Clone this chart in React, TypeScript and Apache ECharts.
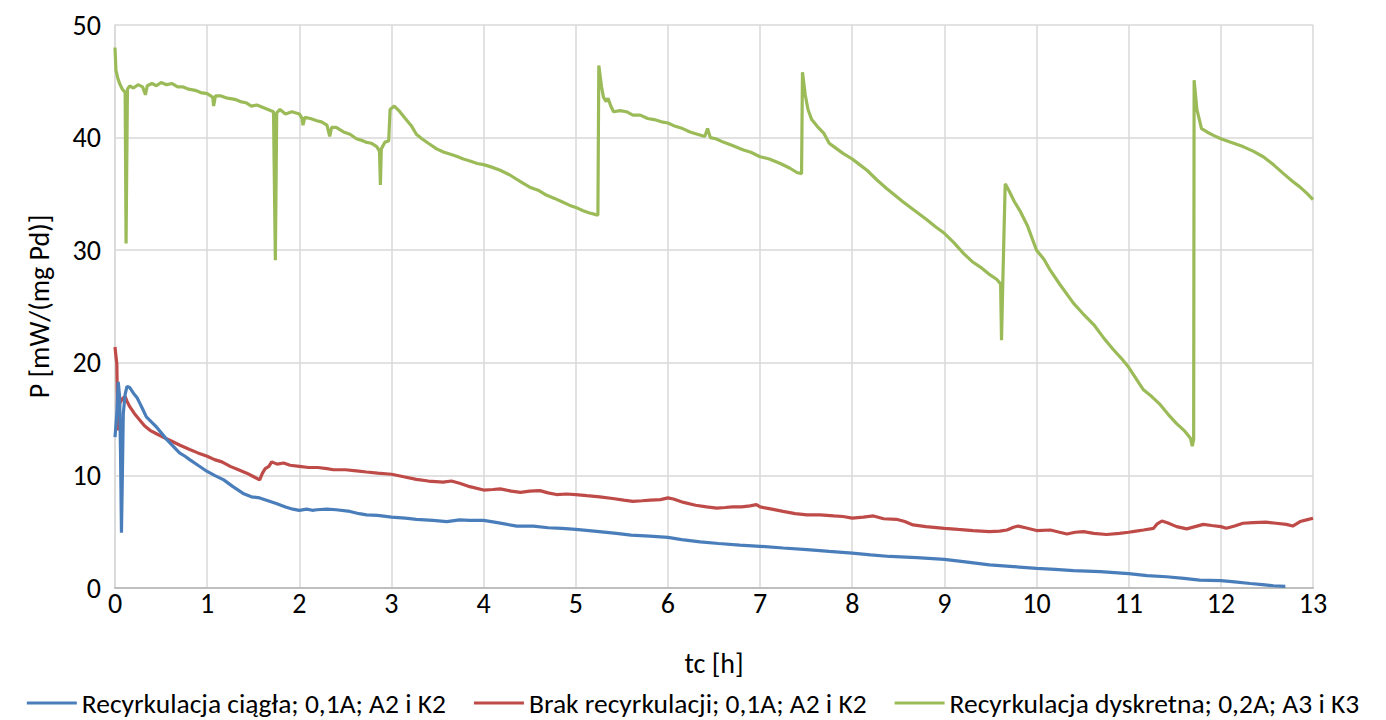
import React, { useEffect, useRef } from "react";
import * as echarts from "echarts";

// Hours (tc [h]) and power values P [mW/(mg Pd)]
const blueX = [0.00, 0.02, 0.035, 0.05, 0.06, 0.07, 0.08, 0.09, 0.11, 0.13, 0.16, 0.20, 0.24, 0.27, 0.30, 0.34, 0.40, 0.45, 0.50, 0.56, 0.63, 0.70, 0.76, 0.81, 0.90, 1.00, 1.08, 1.18, 1.28, 1.39, 1.48, 1.57, 1.66, 1.75, 1.85, 1.93, 2.00, 2.08, 2.14, 2.19, 2.30, 2.40, 2.55, 2.65, 2.73, 2.85, 3.00, 3.15, 3.27, 3.45, 3.60, 3.74, 3.85, 4.00, 4.15, 4.36, 4.54, 4.70, 4.85, 5.00, 5.20, 5.44, 5.60, 5.80, 6.00, 6.15, 6.35, 6.55, 6.78, 7.00, 7.25, 7.51, 7.75, 8.00, 8.20, 8.41, 8.70, 9.00, 9.25, 9.49, 9.75, 10.00, 10.20, 10.40, 10.69, 11.00, 11.20, 11.41, 11.60, 11.77, 12.00, 12.15, 12.32, 12.45, 12.57, 12.70];
const blueY = [13.4, 15.5, 18.3, 17.0, 12.0, 4.9, 10.0, 15.5, 17.2, 17.9, 17.8, 17.3, 16.9, 16.4, 15.9, 15.2, 14.7, 14.3, 13.8, 13.2, 12.6, 12.0, 11.7, 11.4, 10.9, 10.35, 10.0, 9.6, 9.0, 8.4, 8.1, 8.0, 7.75, 7.5, 7.2, 7.0, 6.9, 7.0, 6.9, 6.95, 7.0, 6.95, 6.8, 6.6, 6.5, 6.45, 6.3, 6.2, 6.1, 6.0, 5.9, 6.05, 6.0, 6.0, 5.8, 5.5, 5.5, 5.35, 5.3, 5.2, 5.05, 4.85, 4.7, 4.6, 4.5, 4.3, 4.1, 3.95, 3.8, 3.7, 3.55, 3.4, 3.25, 3.1, 2.95, 2.8, 2.7, 2.55, 2.3, 2.05, 1.9, 1.75, 1.65, 1.55, 1.45, 1.27, 1.1, 1.0, 0.85, 0.7, 0.65, 0.55, 0.4, 0.3, 0.2, 0.15];

const redX = [0.00, 0.01, 0.02, 0.03, 0.05, 0.08, 0.11, 0.13, 0.16, 0.21, 0.27, 0.32, 0.38, 0.45, 0.52, 0.60, 0.70, 0.81, 0.90, 1.00, 1.08, 1.16, 1.25, 1.34, 1.43, 1.50, 1.57, 1.60, 1.63, 1.67, 1.70, 1.76, 1.83, 1.90, 2.00, 2.10, 2.20, 2.30, 2.37, 2.50, 2.62, 2.73, 2.85, 3.00, 3.12, 3.27, 3.40, 3.56, 3.65, 3.74, 3.85, 4.00, 4.10, 4.18, 4.30, 4.40, 4.50, 4.61, 4.70, 4.79, 4.90, 5.00, 5.12, 5.26, 5.40, 5.52, 5.62, 5.72, 5.81, 5.92, 6.00, 6.06, 6.17, 6.30, 6.42, 6.53, 6.62, 6.70, 6.80, 6.89, 6.96, 7.00, 7.10, 7.25, 7.38, 7.51, 7.65, 7.80, 7.90, 8.00, 8.12, 8.23, 8.34, 8.48, 8.57, 8.66, 8.80, 9.00, 9.15, 9.31, 9.49, 9.60, 9.68, 9.75, 9.80, 9.88, 10.00, 10.15, 10.25, 10.33, 10.42, 10.51, 10.62, 10.76, 10.90, 11.00, 11.08, 11.16, 11.27, 11.31, 11.36, 11.42, 11.52, 11.63, 11.72, 11.81, 11.90, 12.00, 12.06, 12.15, 12.24, 12.35, 12.49, 12.60, 12.71, 12.78, 12.86, 12.93, 13.00];
const redY = [21.4, 20.6, 19.9, 14.0, 16.4, 16.8, 17.0, 16.6, 16.1, 15.5, 14.9, 14.4, 14.0, 13.7, 13.4, 13.1, 12.7, 12.3, 12.0, 11.7, 11.4, 11.2, 10.8, 10.5, 10.2, 9.9, 9.6, 10.2, 10.6, 10.8, 11.2, 11.0, 11.1, 10.9, 10.8, 10.7, 10.7, 10.6, 10.5, 10.5, 10.4, 10.3, 10.2, 10.1, 9.9, 9.65, 9.5, 9.4, 9.5, 9.3, 9.0, 8.7, 8.75, 8.8, 8.6, 8.5, 8.6, 8.65, 8.45, 8.3, 8.35, 8.3, 8.2, 8.1, 7.95, 7.8, 7.7, 7.75, 7.8, 7.85, 8.0, 7.9, 7.6, 7.35, 7.2, 7.1, 7.15, 7.2, 7.2, 7.3, 7.4, 7.2, 7.05, 6.8, 6.6, 6.5, 6.5, 6.4, 6.35, 6.2, 6.3, 6.4, 6.15, 6.1, 5.9, 5.6, 5.45, 5.3, 5.2, 5.1, 5.0, 5.05, 5.15, 5.4, 5.5, 5.35, 5.1, 5.15, 4.95, 4.8, 4.95, 5.0, 4.85, 4.75, 4.85, 4.95, 5.05, 5.15, 5.3, 5.7, 5.95, 5.8, 5.45, 5.25, 5.45, 5.65, 5.55, 5.45, 5.3, 5.5, 5.75, 5.8, 5.85, 5.75, 5.65, 5.5, 5.9, 6.05, 6.2];

const greenX = [0.00, 0.01, 0.03, 0.05, 0.08, 0.11, 0.12, 0.135, 0.16, 0.20, 0.25, 0.30, 0.33, 0.35, 0.40, 0.45, 0.50, 0.56, 0.62, 0.68, 0.74, 0.80, 0.87, 0.93, 1.00, 1.06, 1.07, 1.09, 1.15, 1.22, 1.30, 1.36, 1.42, 1.48, 1.54, 1.60, 1.66, 1.72, 1.74, 1.755, 1.79, 1.85, 1.92, 2.00, 2.03, 2.04, 2.06, 2.12, 2.19, 2.24, 2.30, 2.33, 2.35, 2.40, 2.48, 2.55, 2.62, 2.66, 2.72, 2.78, 2.84, 2.87, 2.88, 2.89, 2.93, 2.97, 2.985, 3.03, 3.08, 3.13, 3.17, 3.22, 3.27, 3.33, 3.40, 3.49, 3.57, 3.65, 3.72, 3.78, 3.86, 3.93, 4.00, 4.08, 4.18, 4.28, 4.40, 4.50, 4.60, 4.68, 4.77, 4.85, 4.93, 5.00, 5.08, 5.15, 5.20, 5.24, 5.25, 5.28, 5.30, 5.33, 5.35, 5.38, 5.41, 5.48, 5.55, 5.62, 5.70, 5.78, 5.85, 5.93, 6.00, 6.08, 6.16, 6.24, 6.32, 6.40, 6.43, 6.46, 6.52, 6.60, 6.70, 6.82, 6.90, 7.00, 7.10, 7.22, 7.32, 7.40, 7.45, 7.46, 7.49, 7.52, 7.56, 7.62, 7.69, 7.75, 7.80, 7.90, 8.00, 8.08, 8.16, 8.26, 8.37, 8.46, 8.55, 8.68, 8.81, 8.90, 9.00, 9.10, 9.21, 9.30, 9.39, 9.48, 9.57, 9.61, 9.62, 9.635, 9.66, 9.70, 9.76, 9.82, 9.90, 10.00, 10.08, 10.15, 10.25, 10.40, 10.50, 10.62, 10.72, 10.83, 10.92, 11.00, 11.08, 11.16, 11.25, 11.34, 11.43, 11.52, 11.60, 11.67, 11.69, 11.705, 11.71, 11.74, 11.79, 11.85, 11.92, 12.00, 12.10, 12.24, 12.35, 12.46, 12.57, 12.68, 12.78, 12.86, 12.94, 13.00];
const greenY = [48.0, 46.0, 45.3, 44.8, 44.3, 44.0, 30.6, 44.3, 44.6, 44.4, 44.7, 44.5, 43.8, 44.6, 44.8, 44.6, 44.9, 44.7, 44.8, 44.5, 44.5, 44.3, 44.2, 44.0, 43.9, 43.6, 42.8, 43.7, 43.7, 43.5, 43.4, 43.2, 43.1, 42.8, 42.9, 42.7, 42.5, 42.3, 29.1, 42.2, 42.5, 42.1, 42.3, 42.1, 41.7, 41.1, 41.8, 41.7, 41.5, 41.4, 41.1, 40.1, 40.9, 40.9, 40.5, 40.3, 39.9, 39.8, 39.6, 39.5, 39.2, 38.8, 35.8, 39.0, 39.6, 39.7, 42.5, 42.8, 42.4, 41.9, 41.5, 41.0, 40.3, 39.9, 39.5, 39.0, 38.7, 38.5, 38.3, 38.1, 37.9, 37.7, 37.6, 37.4, 37.1, 36.7, 36.1, 35.6, 35.3, 34.9, 34.6, 34.3, 34.0, 33.8, 33.5, 33.3, 33.2, 33.1, 46.4, 44.5, 43.6, 43.2, 43.5, 42.8, 42.3, 42.4, 42.3, 42.0, 42.0, 41.7, 41.6, 41.4, 41.3, 41.0, 40.8, 40.5, 40.3, 40.1, 40.8, 40.0, 39.9, 39.6, 39.3, 38.9, 38.7, 38.3, 38.1, 37.7, 37.3, 36.9, 36.8, 45.8, 43.8, 42.5, 41.6, 41.0, 40.4, 39.5, 39.2, 38.6, 38.1, 37.6, 37.1, 36.3, 35.5, 34.9, 34.3, 33.5, 32.7, 32.1, 31.5, 30.7, 29.7, 29.0, 28.5, 27.9, 27.4, 27.0, 22.0, 27.5, 35.9, 35.3, 34.3, 33.5, 32.2, 30.0, 29.2, 28.2, 27.0, 25.3, 24.4, 23.4, 22.3, 21.2, 20.4, 19.6, 18.6, 17.6, 17.0, 16.3, 15.4, 14.6, 14.0, 13.3, 12.6, 13.2, 45.1, 42.5, 40.8, 40.5, 40.2, 39.9, 39.6, 39.2, 38.8, 38.3, 37.6, 36.8, 36.1, 35.6, 35.0, 34.5];

const seriesNames = [
  "Recyrkulacja ciągła; 0,1A; A2 i K2",
  "Brak recyrkulacji; 0,1A; A2 i K2",
  "Recyrkulacja dyskretna; 0,2A; A3 i K3",
];
const seriesColors = ["#4A7EBB", "#BE4B48", "#9BBB59"];

const zip = (xs: number[], ys: number[]) => xs.map((x, i) => [x, ys[i]]);

const FONT = "Carlito, Calibri, Lato, sans-serif";
const FS = 28;

export default function App() {
  const ref = useRef<HTMLDivElement>(null);
  useEffect(() => {
    if (!ref.current) return;
    const chart = echarts.init(ref.current, undefined, { renderer: "svg" });
    const datasets = [zip(blueX, blueY), zip(redX, redY), zip(greenX, greenY)];
    chart.setOption({
      animation: false,
      backgroundColor: "#ffffff",
      textStyle: { fontFamily: FONT },
      grid: { left: 115, right: 73, top: 25, bottom: 132, containLabel: false },
      legend: {
        top: 684,
        left: "center",
        icon: "rect",
        itemWidth: 50,
        itemHeight: 3,
        itemGap: 28,
        textStyle: { fontFamily: FONT, fontSize: 27.5, color: "#000" },
        data: seriesNames,
      },
      xAxis: {
        type: "value",
        min: 0,
        max: 13,
        interval: 1,
        name: "tc [h]",
        nameLocation: "middle",
        nameGap: 61,
        nameTextStyle: { fontFamily: FONT, fontSize: FS, color: "#000" },
        axisLine: { show: true, lineStyle: { color: "#BFBFBF", width: 2 } },
        axisTick: { show: false },
        axisLabel: { fontFamily: FONT, fontSize: FS, color: "#000", margin: 1 },
        splitLine: { show: true, lineStyle: { color: "#D9D9D9", width: 1.5 } },
      },
      yAxis: {
        type: "value",
        min: 0,
        max: 50,
        interval: 10,
        name: "P [mW/(mg Pd)]",
        nameLocation: "middle",
        nameGap: 62,
        nameRotate: 90,
        nameTextStyle: { fontFamily: FONT, fontSize: FS, color: "#000" },
        axisLine: { show: true, lineStyle: { color: "#D9D9D9", width: 1.5 } },
        axisTick: { show: false },
        axisLabel: { fontFamily: FONT, fontSize: FS, color: "#000", margin: 14 },
        splitLine: { show: true, lineStyle: { color: "#D9D9D9", width: 1.5 } },
      },
      series: datasets.map((d, i) => ({
        name: seriesNames[i],
        type: "line",
        data: d,
        showSymbol: false,
        symbol: "none",
        lineStyle: { color: seriesColors[i], width: 3.2 },
        itemStyle: { color: seriesColors[i] },
        z: 3 - i,
      })),
    });
    return () => chart.dispose();
  }, []);
  return (
    <div
      ref={ref}
      style={{ position: "fixed", left: 0, top: 0, width: 1386, height: 720, background: "#fff" }}
    />
  );
}
